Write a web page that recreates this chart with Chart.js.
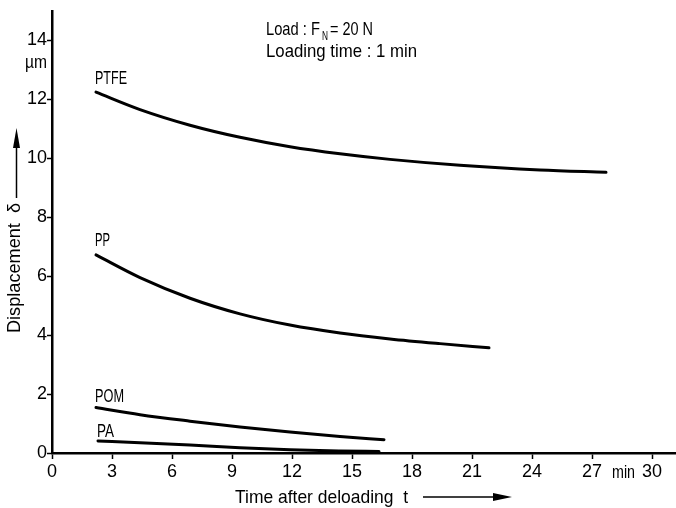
<!DOCTYPE html>
<html>
<head>
<meta charset="utf-8">
<script src="https://cdn.jsdelivr.net/npm/chart.js@4.4.1/dist/chart.umd.min.js"></script>
<style>
html,body{margin:0;padding:0;background:#fff;}
#wrap{width:676px;height:508px;position:relative;}
</style>
</head>
<body>
<div id="wrap"><canvas id="c"></canvas></div>
<script>
// ---- data ----
const xTicks = [0, 3, 6, 9, 12, 15, 18, 21, 24, 27, 30];
const yTicks = [0, 2, 4, 6, 8, 10, 12, 14];

const ptfeTime = [2.2, 4.4, 6.9, 9.4, 11.9, 14.4, 16.9, 20.4, 24.4, 27.7];
const ptfeDisp = [12.24, 11.65, 11.12, 10.71, 10.39, 10.15, 9.96, 9.76, 9.60, 9.52];

const ppTime = [2.2, 4.4, 6.9, 9.4, 11.9, 14.4, 16.9, 19.4, 21.85];
const ppDisp = [6.72, 5.95, 5.25, 4.72, 4.34, 4.07, 3.87, 3.71, 3.57];

const pomTime = [2.2, 4.4, 6.9, 9.4, 11.9, 14.4, 16.6];
const pomDisp = [1.54, 1.30, 1.08, 0.88, 0.71, 0.56, 0.45];

const paTime = [2.3, 4.4, 6.9, 9.4, 11.9, 14.4, 16.35];
const paDisp = [0.41, 0.35, 0.27, 0.18, 0.11, 0.07, 0.05];

const seriesNames = ['PTFE', 'PP', 'POM', 'PA'];

const FONT = "'Liberation Sans', Arial, sans-serif";

function pts(t, v) { return t.map((x, i) => ({x: x, y: v[i]})); }

function ds(label, t, v) {
  return {
    label: label,
    data: pts(t, v),
    borderColor: '#000',
    borderWidth: 3,
    pointRadius: 0,
    fill: false,
    cubicInterpolationMode: 'monotone',
    borderCapStyle: 'round',
    clip: false
  };
}

// draw text horizontally squeezed to a target width (condensed look)
function fitText(ctx, text, x, y, w) {
  const m = ctx.measureText(text).width;
  const s = w / m;
  ctx.save();
  ctx.translate(x, y);
  ctx.scale(s, 1);
  ctx.fillText(text, 0, 0);
  ctx.restore();
}

const textPlugin = {
  id: 'texts',
  afterDraw(chart) {
    const ctx = chart.ctx;
    const xs = chart.scales.x;
    ctx.save();
    ctx.fillStyle = '#000';
    ctx.strokeStyle = '#000';
    ctx.font = '19px ' + FONT;
    ctx.textBaseline = 'alphabetic';
    ctx.textAlign = 'left';

    // series labels: [name, x-value of curve start, baseline px, width px]
    const labelPos = [
      [seriesNames[0], ptfeTime[0], 84, 32],
      [seriesNames[1], ppTime[0], 246, 15],
      [seriesNames[2], pomTime[0], 402, 29],
      [seriesNames[3], paTime[0], 437, 17]
    ];
    labelPos.forEach(l => {
      fitText(ctx, l[0], xs.getPixelForValue(l[1]) - 1, l[2], l[3]);
    });

    // unit label
    fitText(ctx, '\u00b5m', 25, 68, 22);

    // "min" on x axis
    fitText(ctx, 'min', 612, 478, 23);

    // annotation
    fitText(ctx, 'Load : F', 266, 35, 54);
    ctx.font = '13px ' + FONT;
    fitText(ctx, 'N', 322, 40, 6);
    ctx.font = '19px ' + FONT;
    fitText(ctx, '= 20 N', 330, 35, 43);
    fitText(ctx, 'Loading time : 1 min', 266, 57, 151);

    // x title + arrow
    fitText(ctx, 'Time after deloading  t', 235, 503, 173);
    ctx.lineWidth = 1.5;
    ctx.beginPath();
    ctx.moveTo(423, 497);
    ctx.lineTo(496, 497);
    ctx.stroke();
    ctx.beginPath();
    ctx.moveTo(512, 497);
    ctx.lineTo(493, 493);
    ctx.lineTo(493, 501);
    ctx.closePath();
    ctx.fill();

    // y title + arrow
    ctx.save();
    ctx.translate(20, 333);
    ctx.rotate(-Math.PI / 2);
    fitText(ctx, 'Displacement  \u03b4', 0, 0, 130);
    ctx.restore();
    ctx.beginPath();
    ctx.moveTo(16.5, 198);
    ctx.lineTo(16.5, 145);
    ctx.stroke();
    ctx.beginPath();
    ctx.moveTo(16.5, 128);
    ctx.lineTo(13, 148);
    ctx.lineTo(20, 148);
    ctx.closePath();
    ctx.fill();

    ctx.restore();
  }
};

new Chart(document.getElementById('c'), {
  type: 'line',
  data: {
    datasets: [
      ds(seriesNames[0], ptfeTime, ptfeDisp),
      ds(seriesNames[1], ppTime, ppDisp),
      ds(seriesNames[2], pomTime, pomDisp),
      ds(seriesNames[3], paTime, paDisp)
    ]
  },
  options: {
    responsive: true,
    maintainAspectRatio: false,
    animation: false,
    layout: { padding: { top: 6, right: 0, left: 0, bottom: 0 } },
    plugins: { legend: { display: false }, tooltip: { enabled: false } },
    scales: {
      x: {
        type: 'linear',
        min: 0,
        max: 31.2,
        afterBuildTicks(scale) { scale.ticks = xTicks.map(v => ({value: v})); },
        afterFit(scale) { scale.height = 55; },
        border: { display: true, color: '#000', width: 2.5 },
        grid: { drawOnChartArea: false, drawTicks: true, tickLength: 6, color: '#000', tickWidth: 1.5 },
        ticks: { color: '#000', font: { family: FONT, size: 18 }, padding: 2, maxRotation: 0, autoSkip: false }
      },
      y: {
        type: 'linear',
        min: 0,
        max: 15,
        afterBuildTicks(scale) { scale.ticks = yTicks.map(v => ({value: v})); },
        afterFit(scale) { scale.width = 52; },
        border: { display: true, color: '#000', width: 2.5 },
        grid: { drawOnChartArea: false, drawTicks: true, tickLength: 5, color: '#000', tickWidth: 1.5 },
        ticks: { color: '#000', font: { family: FONT, size: 18 }, padding: 0, autoSkip: false }
      }
    }
  },
  plugins: [textPlugin]
});
</script>
</body>
</html>
